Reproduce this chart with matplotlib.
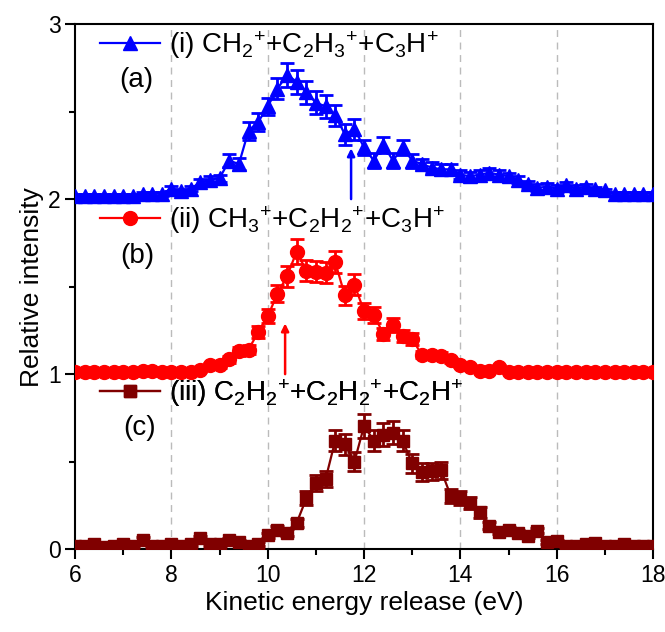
import matplotlib
matplotlib.use("Agg")
import matplotlib.pyplot as plt
from matplotlib.lines import Line2D
import numpy as np

plt.rcParams['font.family'] = ['Liberation Sans', 'DejaVu Sans']
plt.rcParams['mathtext.fontset'] = 'custom'
plt.rcParams['mathtext.rm'] = 'Liberation Sans'
plt.rcParams['mathtext.it'] = 'Liberation Sans'

# KER grid (eV), 0.2 eV bins
ker = np.round(np.arange(6.0, 18.001, 0.2), 1)

# (i) CH2+ + C2H3+ + C3H+
ch2_int = [0.02, 0.02, 0.02, 0.02, 0.02, 0.02, 0.02, 0.03, 0.03, 0.03,
           0.06, 0.045, 0.06, 0.095, 0.11, 0.12, 0.22, 0.20, 0.39, 0.44,
           0.53, 0.63, 0.71, 0.67, 0.61, 0.55, 0.53, 0.48, 0.37, 0.40,
           0.295, 0.22, 0.31, 0.22, 0.295, 0.22, 0.20, 0.18, 0.17, 0.17,
           0.14, 0.13, 0.14, 0.15, 0.14, 0.13, 0.11, 0.085, 0.065, 0.07,
           0.06, 0.08, 0.06, 0.07, 0.055, 0.05, 0.03, 0.03, 0.03, 0.03, 0.03]
ch2_err = [0.01, 0.01, 0.01, 0.01, 0.01, 0.01, 0.01, 0.01, 0.01, 0.01,
           0.015, 0.015, 0.015, 0.02, 0.02, 0.02, 0.035, 0.035, 0.05, 0.05,
           0.05, 0.06, 0.07, 0.07, 0.065, 0.065, 0.065, 0.06, 0.06, 0.06,
           0.045, 0.045, 0.045, 0.045, 0.045, 0.04, 0.03, 0.03, 0.03, 0.03,
           0.025, 0.025, 0.025, 0.025, 0.025, 0.02, 0.02, 0.02, 0.02, 0.02,
           0.02, 0.02, 0.02, 0.015, 0.015, 0.01, 0.01, 0.01, 0.01, 0.01, 0.01]

# (ii) CH3+ + C2H2+ + C3H+
ch3_int = [0.01, 0.01, 0.01, 0.01, 0.01, 0.015, 0.01, 0.02, 0.02, 0.01,
           0.015, 0.01, 0.015, 0.025, 0.05, 0.05, 0.085, 0.13, 0.14, 0.24,
           0.33, 0.46, 0.56, 0.70, 0.59, 0.585, 0.58, 0.64, 0.45, 0.51,
           0.36, 0.34, 0.23, 0.28, 0.22, 0.20, 0.11, 0.11, 0.105, 0.08,
           0.05, 0.04, 0.02, 0.02, 0.04, 0.015, 0.01, 0.01, 0.01, 0.01,
           0.01, 0.01, 0.01, 0.01, 0.01, 0.01, 0.01, 0.01, 0.01, 0.01, 0.01]
ch3_err = [0.008, 0.008, 0.008, 0.008, 0.008, 0.008, 0.008, 0.01, 0.01, 0.008,
           0.01, 0.008, 0.01, 0.012, 0.015, 0.015, 0.02, 0.025, 0.025, 0.035,
           0.04, 0.05, 0.06, 0.07, 0.06, 0.06, 0.06, 0.065, 0.055, 0.06,
           0.045, 0.045, 0.035, 0.04, 0.035, 0.035, 0.02, 0.02, 0.02, 0.015,
           0.012, 0.01, 0.008, 0.008, 0.01, 0.008, 0.008, 0.008, 0.008, 0.008,
           0.008, 0.008, 0.008, 0.008, 0.008, 0.008, 0.008, 0.008, 0.008, 0.008, 0.008]

# (iii) C2H2+ + C2H2+ + C2H+
c2h2_int = [0.02, 0.02, 0.03, 0.015, 0.02, 0.03, 0.02, 0.055, 0.02, 0.02,
            0.03, 0.02, 0.03, 0.065, 0.03, 0.03, 0.05, 0.04, 0.02, 0.03,
            0.08, 0.11, 0.095, 0.15, 0.29, 0.38, 0.40, 0.62, 0.60, 0.50,
            0.705, 0.62, 0.655, 0.665, 0.62, 0.49, 0.44, 0.445, 0.45, 0.305,
            0.295, 0.265, 0.21, 0.135, 0.10, 0.11, 0.095, 0.075, 0.105, 0.04,
            0.045, 0.02, 0.02, 0.03, 0.035, 0.02, 0.02, 0.03, 0.02, 0.02, 0.02]
c2h2_err = [0.01, 0.01, 0.01, 0.01, 0.01, 0.01, 0.01, 0.012, 0.01, 0.01,
            0.01, 0.01, 0.01, 0.012, 0.01, 0.01, 0.012, 0.01, 0.01, 0.01,
            0.015, 0.02, 0.02, 0.025, 0.04, 0.045, 0.045, 0.06, 0.06, 0.055,
            0.07, 0.06, 0.065, 0.065, 0.06, 0.055, 0.05, 0.05, 0.05, 0.04,
            0.04, 0.035, 0.03, 0.02, 0.015, 0.015, 0.015, 0.012, 0.015, 0.01,
            0.01, 0.01, 0.01, 0.01, 0.01, 0.01, 0.01, 0.01, 0.01, 0.01, 0.01]

series_labels = [r'(i) CH$_2$$^{+}$+C$_2$H$_3$$^{+}$+C$_3$H$^{+}$',
                 r'(ii) CH$_3$$^{+}$+C$_2$H$_2$$^{+}$+C$_3$H$^{+}$',
                 r'(iii) C$_2$H$_2$$^{+}$+C$_2$H$_2$$^{+}$+C$_2$H$^{+}$']
panel_tags = ['(a)', '(b)', '(c)']
offsets = [2, 1, 0]

# onset arrows (KER, tip height above each baseline)
arrow_ker = [11.73, 10.36]
arrow_tip = [0.29, 0.29]

colors = ['#0000FF', '#FF0000', '#800000']
markers = ['^', 'o', 's']
msizes = [10.5, 10, 8.5]

fig = plt.figure(figsize=(6.65, 6.32), dpi=100)
ax = fig.add_axes([0.113, 0.131, 0.869, 0.831])

for xv in [8, 10, 12, 14, 16]:
    ax.axvline(xv, color='#BBBBBB', ls=(0, (5, 4)), lw=1.0, zorder=0)

data = [(ch2_int, ch2_err), (ch3_int, ch3_err), (c2h2_int, c2h2_err)]
legend_y = [0.96, 0.627, 0.297]
tag_pos = [(0.106, 0.893), (0.107, 0.558), (0.111, 0.23)]

for i, (vals, errs) in enumerate(data):
    y = np.array(vals) + offsets[i]
    ax.errorbar(ker, y, yerr=errs, color=colors[i], marker=markers[i],
                ms=msizes[i], lw=1.6, elinewidth=2.0, capsize=5, capthick=2.0,
                zorder=3)
    handle = Line2D([], [], color=colors[i], marker=markers[i], ms=msizes[i], lw=1.6)
    leg = ax.legend([handle], [series_labels[i]], loc='center left',
                    bbox_to_anchor=(0.043, legend_y[i]), frameon=False,
                    fontsize=20, handlelength=2.15, handletextpad=0.35,
                    borderpad=0, borderaxespad=0)
    ax.add_artist(leg)
    ax.text(tag_pos[i][0], tag_pos[i][1], panel_tags[i], transform=ax.transAxes,
            fontsize=20, ha='center', va='center')

for i in range(2):
    ax.annotate('', xy=(arrow_ker[i], offsets[i] + arrow_tip[i]),
                xytext=(arrow_ker[i], offsets[i]),
                arrowprops=dict(arrowstyle='-|>', color=colors[i], lw=1.8,
                                mutation_scale=11, shrinkA=0, shrinkB=0))

ax.set_xlim(6, 18)
ax.set_ylim(0, 3)
ax.set_xticks([6, 8, 10, 12, 14, 16, 18])
ax.set_xticks(np.arange(7, 18, 2), minor=True)
ax.set_yticks([0, 1, 2, 3])
ax.set_yticks([0.5, 1.5, 2.5], minor=True)
ax.tick_params(which='major', length=7, width=1.5, labelsize=16.5, direction='out')
ax.tick_params(which='minor', length=4, width=1.5, direction='out')
for sp in ax.spines.values():
    sp.set_linewidth(1.5)

ax.set_xlabel('Kinetic energy release (eV)', fontsize=19, labelpad=3)
ax.set_ylabel('Relative intensity', fontsize=19, labelpad=3)

fig.savefig('out.png', dpi=100)
